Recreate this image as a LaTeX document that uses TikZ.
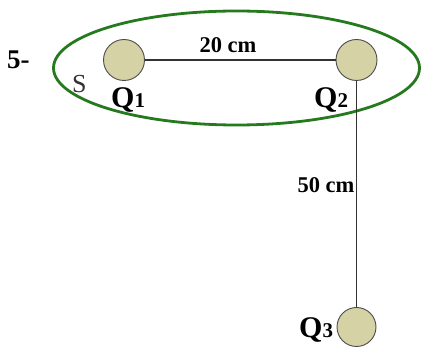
\documentclass[tikz,border=0pt]{standalone}
\usepackage{fontspec}
\setmainfont{Liberation Serif}
\usetikzlibrary{shapes.geometric}
\definecolor{qfill}{RGB}{213,210,166}
\definecolor{ringgreen}{RGB}{38,122,30}
\definecolor{lineg}{RGB}{50,50,50}
\begin{document}
\begin{tikzpicture}[x=1pt,y=-1pt,
  charge/.style={circle,draw=black!70,fill=qfill,line width=0.9pt,minimum size=41pt,inner sep=0pt},
  link/.style={draw=lineg,line width=1.4pt},
  qlabel/.style={anchor=base west,inner sep=0pt,font=\fontsize{30}{33}\selectfont\bfseries},
  dist/.style={inner sep=0pt,anchor=base,font=\fontsize{22.5}{26}\selectfont\bfseries}]
\useasboundingbox (0,0) rectangle (421,347);
\node[ellipse,draw=ringgreen,line width=2.8pt,minimum width=366pt,minimum height=114pt,inner sep=0pt] (S) at (236.5,68) {};
\node[charge] (q1) at (124,60) {};
\node[charge] (q2) at (356.5,60) {};
\node[charge,minimum size=39pt] (q3) at (356.5,327) {};
\draw[link] (q1) -- (q2);
\draw[link] (q2) -- (q3);
\node[anchor=base west,inner sep=0pt,font=\fontsize{27}{30}\selectfont\bfseries] (num) at (7,69) {5-};
\node[anchor=base west,inner sep=0pt,text=black!80,font=\fontsize{26}{30}\selectfont] (slab) at (72,93) {S};
\node[qlabel] (l1) at (111,108) {Q{\fontsize{21}{24}\selectfont 1}};
\node[qlabel] (l2) at (314,108) {Q{\fontsize{21}{24}\selectfont 2}};
\node[qlabel] (l3) at (299,338) {Q{\fontsize{21}{24}\selectfont 3}};
\node[dist] (d1) at (228,53) {20 cm};
\node[dist] (d2) at (326,193) {50 cm};
\end{tikzpicture}
\end{document}
